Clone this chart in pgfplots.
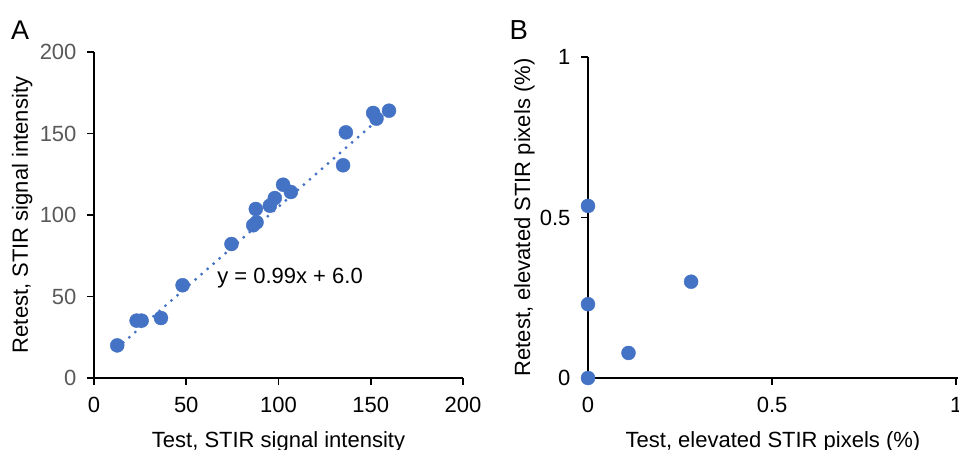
\documentclass[border=0pt]{standalone}
\usepackage{fontspec}
\setmainfont{Liberation Sans}
\usepackage{pgfplots}
\pgfplotsset{compat=1.18}
\definecolor{PointColor}{HTML}{4472C4}
\definecolor{TickGray}{HTML}{595959}

\newcommand{\lbl}{\fontsize{22}{26}\selectfont}

\pgfplotsset{
    panel/.style={
        scale only axis,
        clip=false,
        axis x line=bottom,
        axis y line=left,
        axis line style={-, black, line width=1.6pt},
        tick style={black, line width=1.6pt},
        tick align=outside,
        major tick length=7pt,
        minor tick num=0,
        /pgf/number format/assume math mode=true,
        ticklabel style={font=\lbl},
        xticklabel style={yshift=-9pt},
        yticklabel style={xshift=-7pt},
        label style={font=\lbl, text=black},
        xlabel style={at={(axis description cs:0.5,0)}, anchor=base, yshift=-69pt},
        ylabel style={at={(axis description cs:0,0.5)}, anchor=base, rotate=0},
    },
    dots/.style={
        only marks,
        color=PointColor,
        mark=*,
        mark size=7pt,
        mark options={fill=PointColor, draw=none}
    }
}

\begin{document}
\begin{tikzpicture}[x=1pt,y=1pt]
    \path[use as bounding box] (0,0) rectangle (959,450);

    % ---------------- Panel A ----------------
    \begin{axis}[
        panel,
        at={(94pt,72pt)},
        anchor=south west,
        width=369pt,
        height=326pt,
        xmin=0, xmax=200,
        ymin=0, ymax=200,
        xtick={0,50,100,150,200},
        ytick={0,50,100,150,200},
        yticklabel style={text=TickGray},
        xlabel={Test, STIR signal intensity},
        ylabel={Retest, STIR signal intensity},
        ylabel style={yshift=66pt},
    ]
    % trendline
    \addplot[
        color=PointColor,
        line width=3.2pt,
        line cap=round,
        dash pattern=on 0pt off 8pt
    ] coordinates {
        (12.6,18.5)
        (159.9,164.3)
    };

    \addplot[dots] table {
        x      y
        12.6   20.0
        23.1   35.2
        25.8   35.2
        36.3   36.8
        48.0   56.9
        74.5   82.2
        86.3   93.7
        88.1   95.5
        87.7   103.7
        95.3   105.7
        98.0   110.4
        102.5  118.6
        106.7  114.1
        135.0  130.5
        136.5  150.7
        151.3  162.6
        153.1  159.1
        159.9  164.0
    };

    \node[font=\lbl, anchor=west, inner sep=0pt] at (axis cs:66.7,61.3) {y = 0.99x + 6.0};
    \end{axis}

    % ---------------- Panel B ----------------
    \begin{axis}[
        panel,
        at={(588pt,72pt)},
        anchor=south west,
        width=370pt,
        height=321pt,
        xmin=0, xmax=1.005,
        ymin=0, ymax=1,
        xtick={0,0.5,1},
        ytick={0,0.5,1},
        xticklabels={0,0.5,1},
        yticklabels={0,0.5,1},
        xlabel={Test, elevated STIR pixels (\%)},
        ylabel={Retest, elevated STIR pixels (\%)},
        ylabel style={yshift=58pt},
    ]
    \addplot[dots] table {
        x      y
        0      0
        0      0.23
        0      0.536
        0.11   0.078
        0.28   0.30
    };
    \end{axis}

    \node[font=\fontsize{27}{30}\selectfont, anchor=base west, inner sep=0pt] at (11,410) {A};
    \node[font=\fontsize{27.5}{30}\selectfont, anchor=base west, inner sep=0pt] at (509.5,410) {B};
\end{tikzpicture}
\end{document}
